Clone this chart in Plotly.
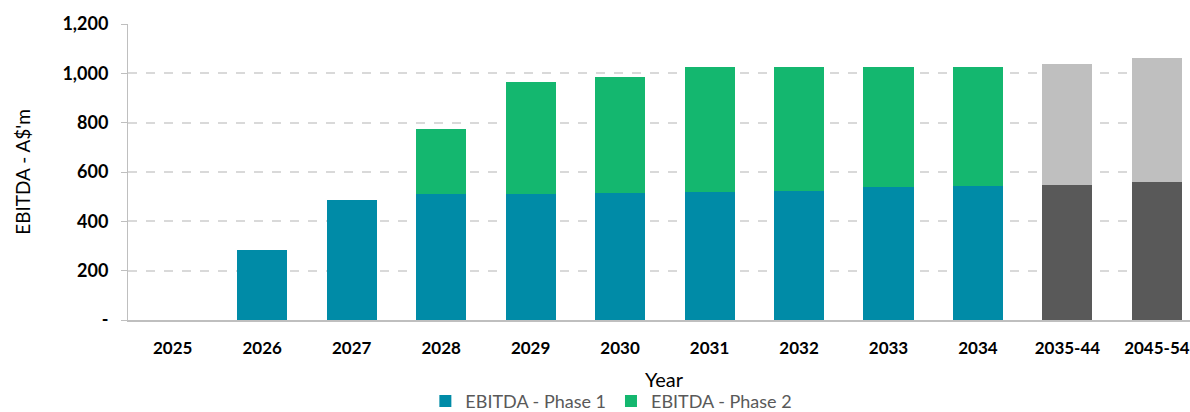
import plotly.graph_objects as go

categories = ["2025", "2026", "2027", "2028", "2029", "2030", "2031", "2032",
              "2033", "2034", "2035-44", "2045-54"]
phase1 = [0, 284, 485, 510, 510, 514, 517, 521, 541, 545, 547, 560]
phase2 = [0, 0, 0, 266, 456, 472, 509, 505, 485, 481, 489, 501]
phase1_colors = ["#008BA7"] * 10 + ["#595959"] * 2
phase2_colors = ["#14B76F"] * 10 + ["#BFBFBF"] * 2
ytick_vals = [0, 200, 400, 600, 800, 1000, 1200]
ytick_text = ["-", "200", "400", "600", "800", "1,000", "1,200"]

FONT = "Lato, 'Open Sans', sans-serif"

fig = go.Figure()
fig.add_trace(go.Bar(
    x=list(range(len(categories))), y=phase1, name="EBITDA - Phase 1",
    marker=dict(color=phase1_colors, line=dict(width=0)),
    width=0.56,
))
fig.add_trace(go.Bar(
    x=list(range(len(categories))), y=phase2, name="EBITDA - Phase 2",
    marker=dict(color=phase2_colors, line=dict(width=0)),
    width=0.56,
))

fig.update_layout(
    barmode="stack",
    width=1190, height=412,
    margin=dict(l=128, r=0, t=24, b=92, autoexpand=False),
    paper_bgcolor="white", plot_bgcolor="white",
    font=dict(family=FONT, color="#000000"),
    showlegend=True,
    legend=dict(
        orientation="h", x=0.28, xanchor="left",
        yref="container", y=0.026, yanchor="middle",
        font=dict(size=18, color="#595959", family=FONT),
        traceorder="normal", itemwidth=30,
    ),
    xaxis=dict(
        tickmode="array", tickvals=list(range(len(categories))), ticktext=categories,
        range=[-0.5, 11.37], automargin=False,
        showgrid=False, zeroline=False,
        showline=True, linecolor="#BFBFBF", linewidth=1.5,
        ticks="", ticklabelstandoff=12,
        tickfont=dict(size=17, color="#000000", family=FONT, weight="bold"),
    ),
    yaxis=dict(
        range=[0, 1200], tickmode="array", tickvals=ytick_vals, ticktext=ytick_text,
        automargin=False,
        showgrid=True, gridcolor="#D9D9D9", griddash="dash", gridwidth=1.5,
        zeroline=False,
        showline=True, linecolor="#BFBFBF", linewidth=1,
        ticks="outside", ticklen=6, tickcolor="#BFBFBF", ticklabelstandoff=9,
        tickfont=dict(size=18, color="#000000", family=FONT, weight="bold"),
        title=dict(text="EBITDA - A$'m", font=dict(size=19, color="#000000", family=FONT), standoff=26),
    ),
    annotations=[dict(
        text="Year", x=0.5056, xref="paper", y=-0.2, yref="paper",
        yanchor="middle", xanchor="center", showarrow=False,
        font=dict(size=20, color="#000000", family=FONT),
    )],
)

fig.write_html(
    "out.html",
    config={"displayModeBar": False},
    post_script="document.body.style.margin='0';document.body.style.overflow='hidden';",
)
